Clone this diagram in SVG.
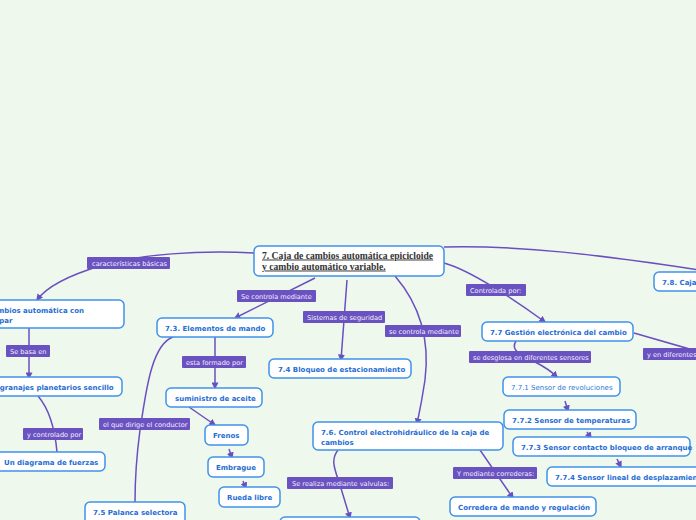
<svg xmlns="http://www.w3.org/2000/svg" width="696" height="520" viewBox="0 0 696 520">
<defs>
<marker id="ah" viewBox="0 0 10 10" refX="8" refY="5" markerWidth="7" markerHeight="7" orient="auto-start-reverse" markerUnits="userSpaceOnUse"><path d="M0,0 L10,5 L0,10 z" fill="#6a4fc1"/></marker>
<style>
.n{fill:#fff;stroke:#3f93ea;stroke-width:1.5}
.t{font-family:"DejaVu Sans",Verdana,sans-serif;font-weight:bold;font-size:7px;fill:#1f6ed4}
.tr{font-family:"DejaVu Sans",Verdana,sans-serif;font-size:7px;fill:#2a7ad8}
.lb{fill:#6a52c0}
.lt{font-family:"DejaVu Sans",Verdana,sans-serif;font-size:6.6px;fill:#f3f0ff}
.c{fill:none;stroke:#6a4fc1;stroke-width:1.5}
.ca{fill:none;stroke:#6a4fc1;stroke-width:1.5;marker-end:url(#ah)}
.rt{font-family:"Liberation Serif","Times New Roman",serif;font-weight:bold;font-size:9.6px;fill:#333;text-decoration:underline}
</style>
</defs>
<rect width="696" height="520" fill="#eff8ec"/>
<g id="connectors">
<path class="ca" d="M254,253 C200,250 140,254 100,266 C70,275 48,285 37,300"/>
<path class="ca" d="M29,328 L29,378"/>
<path class="c" d="M38,396 C50,410 55,430 57,452"/>
<path class="ca" d="M315,278 L235,318"/>
<path class="ca" d="M215,337 L215,388"/>
<path class="ca" d="M189,407 L215,425"/>
<path class="ca" d="M229,449 L232,458"/>
<path class="ca" d="M243,481 L246,488"/>
<path class="c" d="M173,337 C150,345 145,400 140,430 C136,460 135,490 135,502"/>
<path class="ca" d="M347,280 L341,360"/>
<path class="ca" d="M395,276 C420,305 430,340 425,380 C422,400 420,410 417,424"/>
<path class="ca" d="M338,450 C330,460 335,470 340,485 C344,498 347,508 350,518"/>
<path class="ca" d="M480,450 L513,498"/>
<path class="ca" d="M444,263 C470,270 515,300 545,322"/>
<path class="ca" d="M516,341 C510,350 520,355 535,362 C545,367 552,372 557,377"/>
<path class="ca" d="M565,401 L568,411"/>
<path class="ca" d="M587,432 L591,438"/>
<path class="ca" d="M617,459 L621,467"/>
<path class="c" d="M634,333 L700,352"/>
<path class="c" d="M444,247 C520,245 600,255 700,270"/>
</g>
<g id="labels">
<rect class="lb" x="87" y="257" width="83" height="12" rx="1"/><text class="lt" x="92" y="265.5"> características básicas</text>
<rect class="lb" x="6" y="345" width="44" height="12" rx="1"/><text class="lt" x="10" y="353.5">Se basa en</text>
<rect class="lb" x="23" y="428" width="60" height="12" rx="1"/><text class="lt" x="27" y="436.5">y controlado por</text>
<rect class="lb" x="237" y="290" width="79" height="12" rx="1"/><text class="lt" x="241" y="298.5">Se controla mediante</text>
<rect class="lb" x="182" y="356" width="64" height="12" rx="1"/><text class="lt" x="186" y="364.5">esta formado por</text>
<rect class="lb" x="99" y="418" width="91" height="12" rx="1"/><text class="lt" x="103" y="426.5">el que dirige el conductor</text>
<rect class="lb" x="303" y="311" width="82" height="12" rx="1"/><text class="lt" x="307" y="319.5">Sistemas de seguridad</text>
<rect class="lb" x="385" y="325" width="76" height="12" rx="1"/><text class="lt" x="389" y="333.5">se controla mediante</text>
<rect class="lb" x="287" y="477" width="106" height="12" rx="1"/><text class="lt" x="292" y="485.5">Se realiza mediante valvulas:</text>
<rect class="lb" x="453" y="467" width="84" height="12" rx="1"/><text class="lt" x="457" y="475.5">Y mediante correderas:</text>
<rect class="lb" x="466" y="284" width="60" height="12" rx="1"/><text class="lt" x="470" y="292.5">Controlada por:</text>
<rect class="lb" x="469" y="351" width="122" height="12" rx="1"/><text class="lt" x="473" y="359.5">se desglosa en diferentes sensores</text>
<rect class="lb" x="643" y="348" width="60" height="12" rx="1"/><text class="lt" x="647" y="356.5">y en diferentes</text>
</g>
<g id="root">
<rect class="n" x="254" y="246" width="190" height="30" rx="5"/>
<text class="rt" x="262" y="258.5">7. Caja de cambios automática epicicloide</text>
<text class="rt" x="262" y="269.5">y cambio automático variable.</text>
</g>
<g id="n71"><rect class="n" x="-10" y="300" width="134" height="28" rx="5"/><text class="t" x="-61" y="312.5">7.1. Caja de cambios automática con</text><text class="t" x="-61" y="322.5">convertidor de par</text></g>
<g id="n-engranajes"><rect class="n" x="-10" y="377" width="132" height="19" rx="5"/><text class="t" x="-10" y="389.5">Engranajes planetarios sencillo</text></g>
<g id="n-diagrama"><rect class="n" x="-5" y="452" width="110" height="19" rx="5"/><text class="t" x="4" y="464.5">Un diagrama de fuerzas</text></g>
<g id="n73"><rect class="n" x="157" y="318" width="116" height="19" rx="5"/><text class="t" x="165" y="330.5">7.3. Elementos de mando</text></g>
<g id="n-aceite"><rect class="n" x="166" y="388" width="96" height="19" rx="5"/><text class="t" x="175" y="400.5">suministro de aceite</text></g>
<g id="n-frenos"><rect class="n" x="205" y="425" width="43" height="20" rx="5"/><text class="t" x="213" y="438">Frenos</text></g>
<g id="n-embrague"><rect class="n" x="208" y="457" width="56" height="20" rx="5"/><text class="t" x="216" y="470">Embrague</text></g>
<g id="n-rueda"><rect class="n" x="219" y="487" width="61" height="20" rx="5"/><text class="t" x="227" y="500">Rueda libre</text></g>
<g id="n75"><rect class="n" x="85" y="502" width="100" height="24" rx="5"/><text class="t" x="93" y="515">7.5 Palanca selectora</text></g>
<g id="n74"><rect class="n" x="269" y="359" width="142" height="19" rx="5"/><text class="t" x="278" y="371.5">7.4 Bloqueo de estacionamiento</text></g>
<g id="n76"><rect class="n" x="313" y="422" width="190" height="28" rx="5"/><text class="t" x="321" y="434.5">7.6. Control electrohidráulico de la caja de</text><text class="t" x="321" y="444.5">cambios</text></g>
<g id="n-valvulas"><rect class="n" x="280" y="517" width="140" height="20" rx="5"/></g>
<g id="n-corredera"><rect class="n" x="450" y="497" width="146" height="19" rx="5"/><text class="t" x="458" y="509.5">Corredera de mando y regulación</text></g>
<g id="n77"><rect class="n" x="482" y="322" width="151" height="19" rx="5"/><text class="t" x="490" y="334.5">7.7 Gestión electrónica del cambio</text></g>
<g id="n771"><rect class="n" x="503" y="377" width="117" height="19" rx="5"/><text class="tr" x="511" y="389.5">7.7.1 Sensor de revoluciones</text></g>
<g id="n772"><rect class="n" x="504" y="410" width="132" height="19" rx="5"/><text class="t" x="512" y="422.5">7.7.2 Sensor de temperaturas</text></g>
<g id="n773"><rect class="n" x="513" y="437" width="177" height="19" rx="5"/><text class="t" x="521" y="449.5">7.7.3 Sensor contacto bloqueo de arranque</text></g>
<g id="n774"><rect class="n" x="547" y="467" width="160" height="19" rx="5"/><text class="t" x="555" y="479.5">7.7.4 Sensor lineal de desplazamiento</text></g>
<g id="n78"><rect class="n" x="654" y="272" width="60" height="19" rx="5"/><text class="t" x="662" y="284.5">7.8. Caja</text></g>
</svg>
